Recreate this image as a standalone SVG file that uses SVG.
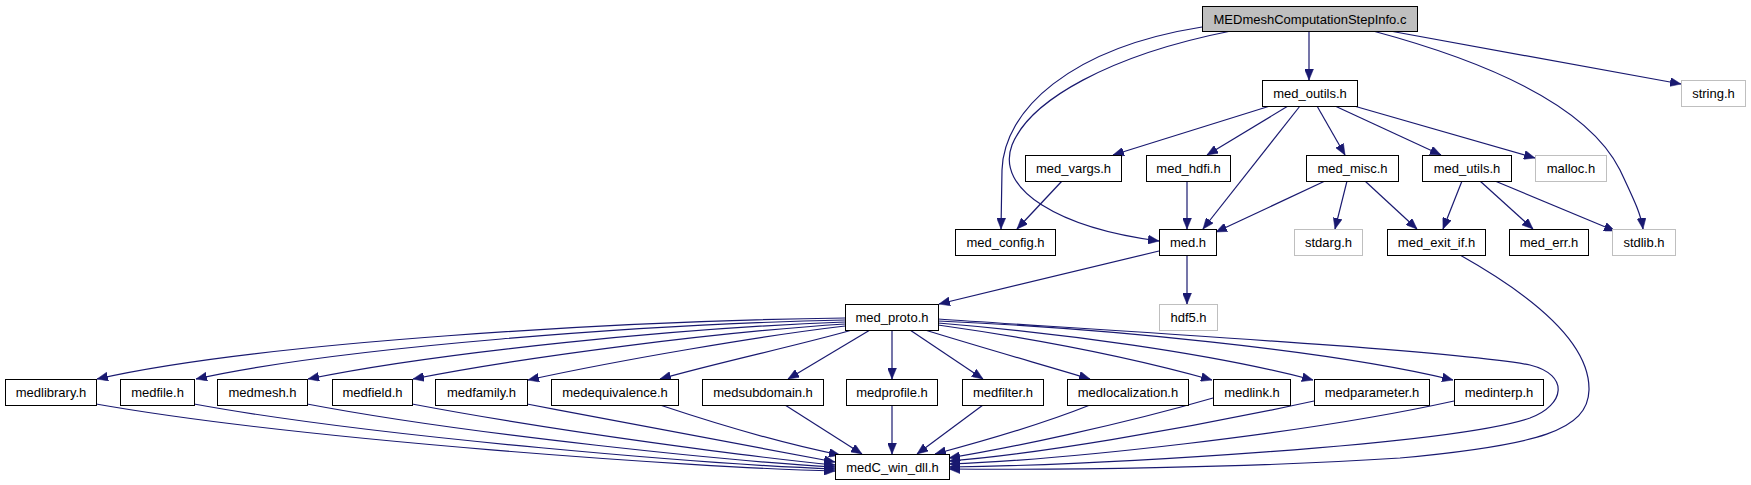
<svg xmlns="http://www.w3.org/2000/svg" width="1751" height="485" viewBox="0 0 1751 485">
<style>
.n rect{fill:#fff;stroke:#000;stroke-width:1}
.g rect{fill:#fff;stroke:#bfbfbf;stroke-width:1}
.r rect{fill:#bfbfbf;stroke:#000;stroke-width:1}
text{font-family:"Liberation Sans",Arial,sans-serif;font-size:13px;text-anchor:middle;fill:#000}
#edges path{fill:none;stroke:#191970;stroke-width:1.2;marker-end:url(#a)}
</style>
<defs>
<marker id="a" viewBox="0 0 11 9" refX="11" refY="4.5" markerWidth="11" markerHeight="9" orient="auto" markerUnits="userSpaceOnUse">
<path d="M0,0 L11,4.5 L0,9 z" fill="#191970" stroke="#191970" stroke-width="0.5"/>
</marker>
</defs>
<rect width="1751" height="485" fill="#fff"/>
<g id="edges">
<path d="M1309,31 L1309,80"/>
<path d="M1390,31 L1681,84"/>
<path d="M1373,31 C1500,65 1590,110 1620,170 C1634,200 1641,214 1643,229"/>
<path d="M1202,27 C1070,48 1004,110 1002,170 L1001,229"/>
<path d="M1231,31 C1110,55 1030,100 1012,145 C995,190 1060,228 1159,241"/>
<path d="M1270,106 L1113,155"/>
<path d="M1288,106 L1207,155"/>
<path d="M1300,106 L1203,229"/>
<path d="M1317,106 L1345,155"/>
<path d="M1335,106 L1441,155"/>
<path d="M1354,106 L1535,158"/>
<path d="M1062,181 L1017,229"/>
<path d="M1187,181 L1187,229"/>
<path d="M1325,181 L1216,232"/>
<path d="M1347,181 L1335,229"/>
<path d="M1365,181 L1417,229"/>
<path d="M1462,181 L1443,229"/>
<path d="M1480,181 L1533,229"/>
<path d="M1495,181 L1615,231"/>
<path d="M1187,255 L1187,304"/>
<path d="M1159,251 L939,304"/>
<path d="M1460,255 C1540,300 1590,345 1589,390 C1588,430 1540,445 1400,458 C1250,468 1050,470 949,469"/>
<path d="M938,319 C1100,330 1450,350 1530,365 C1570,375 1565,405 1530,418 C1450,445 1100,465 949,467"/>
<path d="M845,318 C620,321 260,342 97,379"/>
<path d="M845,320 C650,324 340,347 196,379"/>
<path d="M845,322 C680,328 440,352 308,379"/>
<path d="M845,324 C720,332 530,356 413,379"/>
<path d="M845,326 C760,336 620,360 528,380"/>
<path d="M852,330 C800,345 720,362 660,379"/>
<path d="M870,330 L788,379"/>
<path d="M892,330 L892,379"/>
<path d="M910,330 L983,379"/>
<path d="M925,330 C990,350 1040,364 1090,379"/>
<path d="M938,325 C1030,338 1130,357 1212,380"/>
<path d="M938,323 C1060,333 1210,353 1313,380"/>
<path d="M938,321 C1100,328 1330,350 1453,380"/>
<path d="M96,404 C300,440 700,468 835,471"/>
<path d="M194,404 C380,438 720,465 835,469"/>
<path d="M307,404 C470,435 740,462 835,467"/>
<path d="M412,404 C560,432 760,458 835,465"/>
<path d="M527,404 C650,428 780,452 835,462"/>
<path d="M660,405 C720,425 790,445 840,455"/>
<path d="M785,405 L862,454"/>
<path d="M892,405 L892,454"/>
<path d="M983,405 L917,454"/>
<path d="M1090,405 C1040,425 980,442 935,454"/>
<path d="M1213,398 C1120,425 1010,448 949,458"/>
<path d="M1314,401 C1180,430 1030,455 949,461"/>
<path d="M1454,401 C1300,435 1060,460 949,464"/>
</g>
<g id="root" class="r"><rect x="1202.5" y="6.5" width="215" height="25"/><text x="1310" y="24">MEDmeshComputationStepInfo.c</text></g>
<g id="med_outils" class="n"><rect x="1262.5" y="80.5" width="95" height="26"/><text x="1310" y="98">med_outils.h</text></g>
<g id="string" class="g"><rect x="1681.5" y="80.5" width="64" height="26"/><text x="1713.5" y="98">string.h</text></g>
<g id="med_vargs" class="n"><rect x="1025.5" y="155.5" width="96" height="26"/><text x="1073.5" y="173">med_vargs.h</text></g>
<g id="med_hdfi" class="n"><rect x="1146.5" y="155.5" width="84" height="26"/><text x="1188.5" y="173">med_hdfi.h</text></g>
<g id="med_misc" class="n"><rect x="1306.5" y="155.5" width="92" height="26"/><text x="1352.5" y="173">med_misc.h</text></g>
<g id="med_utils" class="n"><rect x="1422.5" y="155.5" width="89" height="26"/><text x="1467" y="173">med_utils.h</text></g>
<g id="malloc" class="g"><rect x="1535.5" y="155.5" width="71" height="26"/><text x="1571" y="173">malloc.h</text></g>
<g id="med_config" class="n"><rect x="955.5" y="229.5" width="100" height="26"/><text x="1005.5" y="247">med_config.h</text></g>
<g id="med" class="n"><rect x="1159.5" y="229.5" width="57" height="26"/><text x="1188" y="247">med.h</text></g>
<g id="stdarg" class="g"><rect x="1294.5" y="229.5" width="68" height="26"/><text x="1328.5" y="247">stdarg.h</text></g>
<g id="med_exit_if" class="n"><rect x="1387.5" y="229.5" width="98" height="26"/><text x="1436.5" y="247">med_exit_if.h</text></g>
<g id="med_err" class="n"><rect x="1509.5" y="229.5" width="79" height="26"/><text x="1549" y="247">med_err.h</text></g>
<g id="stdlib" class="g"><rect x="1612.5" y="229.5" width="63" height="26"/><text x="1644" y="247">stdlib.h</text></g>
<g id="med_proto" class="n"><rect x="845.5" y="304.5" width="93" height="26"/><text x="892" y="322">med_proto.h</text></g>
<g id="hdf5" class="g"><rect x="1159.5" y="304.5" width="58" height="26"/><text x="1188.5" y="322">hdf5.h</text></g>
<g id="medlibrary" class="n"><rect x="5.5" y="379.5" width="91" height="26"/><text x="51" y="397">medlibrary.h</text></g>
<g id="medfile" class="n"><rect x="120.5" y="379.5" width="74" height="26"/><text x="157.5" y="397">medfile.h</text></g>
<g id="medmesh" class="n"><rect x="217.5" y="379.5" width="90" height="26"/><text x="262.5" y="397">medmesh.h</text></g>
<g id="medfield" class="n"><rect x="332.5" y="379.5" width="80" height="26"/><text x="372.5" y="397">medfield.h</text></g>
<g id="medfamily" class="n"><rect x="435.5" y="379.5" width="92" height="26"/><text x="481.5" y="397">medfamily.h</text></g>
<g id="medequivalence" class="n"><rect x="551.5" y="379.5" width="127" height="26"/><text x="615" y="397">medequivalence.h</text></g>
<g id="medsubdomain" class="n"><rect x="702.5" y="379.5" width="121" height="26"/><text x="763" y="397">medsubdomain.h</text></g>
<g id="medprofile" class="n"><rect x="846.5" y="379.5" width="91" height="26"/><text x="892" y="397">medprofile.h</text></g>
<g id="medfilter" class="n"><rect x="962.5" y="379.5" width="81" height="26"/><text x="1003" y="397">medfilter.h</text></g>
<g id="medlocalization" class="n"><rect x="1067.5" y="379.5" width="121" height="26"/><text x="1128" y="397">medlocalization.h</text></g>
<g id="medlink" class="n"><rect x="1213.5" y="379.5" width="77" height="26"/><text x="1252" y="397">medlink.h</text></g>
<g id="medparameter" class="n"><rect x="1314.5" y="379.5" width="115" height="26"/><text x="1372" y="397">medparameter.h</text></g>
<g id="medinterp" class="n"><rect x="1454.5" y="379.5" width="89" height="26"/><text x="1499" y="397">medinterp.h</text></g>
<g id="medC_win_dll" class="n"><rect x="835.5" y="454.5" width="114" height="25"/><text x="892.5" y="471.5">medC_win_dll.h</text></g>
</svg>
